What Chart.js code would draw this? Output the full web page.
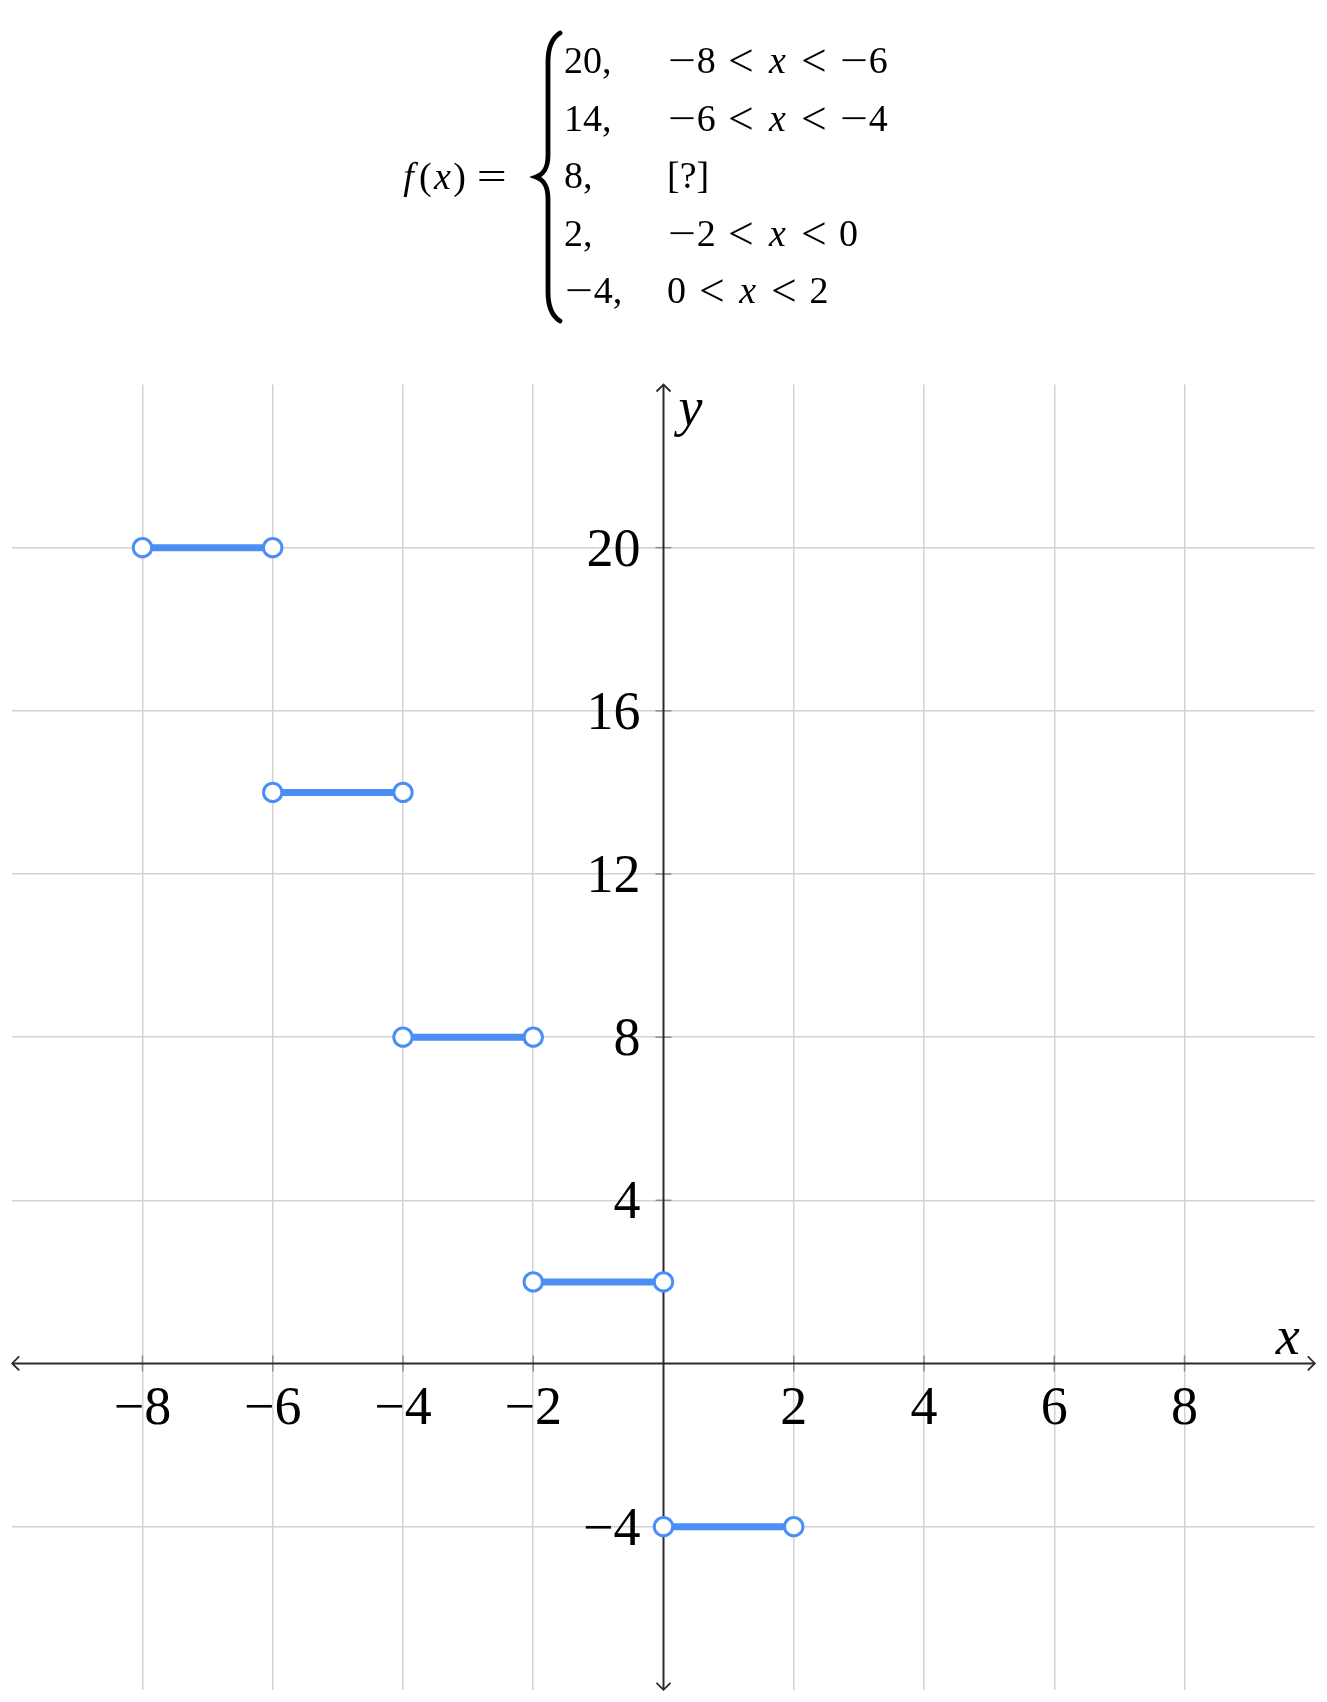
<!DOCTYPE html>
<html>
<head>
<meta charset="utf-8">
<script src="https://cdn.jsdelivr.net/npm/chart.js@4.4.0/dist/chart.umd.min.js"></script>
<style>
  html, body { margin: 0; padding: 0; background: #fff; }
  #wrap { position: relative; width: 1327px; height: 1702px; overflow: hidden; }
  #chart { position: absolute; left: 0; top: 0; }
  #formula { position: absolute; left: 0; top: 0; width: 1327px; height: 340px;
             font-family: "Liberation Serif", serif; color: #000; }
  #formula .t { position: absolute; font-size: 38px; line-height: 38px; white-space: nowrap; }
  #formula .m { display: inline-block; width: 0.78em; text-align: center; transform: scaleX(1.3); }
  #formula .rel { display: inline-block; width: 0.78em; text-align: center; margin: 0 0.28em; transform: scale(1.2); }
  #formula .eq { display: inline-block; width: 0.78em; text-align: center; margin-left: 0.3em; transform: scaleX(1.4); }
  #formula .v { display: inline-block; width: 0.57em; font-style: italic; text-align: center; }
  #formula .f { display: inline-block; width: 0.55em; font-style: italic; text-align: center; }
  #brace { position: absolute; left: 525px; top: 30px; }
</style>
</head>
<body>
<div id="wrap">
  <canvas id="chart" width="1327" height="1702"></canvas>
  <div id="formula">
    <div class="t" style="left:398px; top:157px;"><span class="f">f</span>(<span class="v">x</span>)<span class="eq">=</span></div>
    <svg id="brace" width="45" height="296" viewBox="0 0 45 296">
      <path d="M35,3 C27,8 23,18 23,32 L23,125 C23,138 19,144 11,147 C19,150 23,156 23,169 L23,262 C23,276 27,286 35,291"
            fill="none" stroke="#000" stroke-width="4.8" stroke-linecap="round"/>
    </svg>
  </div>
</div>
<script>
// ---------------- Data ----------------
const xRange = [-10, 10];
const yRange = [-8, 24];
const xTicks = [-8, -6, -4, -2, 2, 4, 6, 8];
const yTicks = [-4, 4, 8, 12, 16, 20];

const pieceStart = [-8, -6, -4, -2, 0];
const pieceEnd = [-6, -4, -2, 0, 2];
const pieceValue = [20, 14, 8, 2, -4];
const hiddenPiece = 2;   // row shown as [?]

const blue = "#4b8ef5";
const fmt = v => (v < 0 ? "\u2212" + Math.abs(v) : String(v));
const fmtHtml = v => (v < 0 ? '<span class="m">\u2212</span>' + Math.abs(v) : String(v));

// ---------------- Formula rows ----------------
const formula = document.getElementById("formula");
const rowBaseline = [73, 130.5, 188, 245.5, 303];
pieceValue.forEach((v, i) => {
    const top = rowBaseline[i] - 32;
    const val = document.createElement("div");
    val.className = "t";
    val.style.left = "564px";
    val.style.top = top + "px";
    val.innerHTML = fmtHtml(v) + ",";
    formula.appendChild(val);

    const cond = document.createElement("div");
    cond.className = "t";
    cond.style.left = "667px";
    cond.style.top = top + "px";
    if (i === hiddenPiece) {
        cond.textContent = "[?]";
    } else {
        cond.innerHTML = fmtHtml(pieceStart[i]) + '<span class="rel">&lt;</span><span class="v">x</span><span class="rel">&lt;</span>' + fmtHtml(pieceEnd[i]);
    }
    formula.appendChild(cond);
});

// ---------------- Axes plugin ----------------
const axesPlugin = {
    id: "axes",
    beforeDatasetsDraw(chart) {
        const { ctx, chartArea: a, scales: { x, y } } = chart;
        const x0 = x.getPixelForValue(0);
        const y0 = y.getPixelForValue(0);
        const seg = (x1, y1, x2, y2) => { ctx.beginPath(); ctx.moveTo(x1, y1); ctx.lineTo(x2, y2); ctx.stroke(); };

        ctx.save();
        // tick marks
        ctx.strokeStyle = "#8c8c8c";
        ctx.lineWidth = 1.5;
        xTicks.forEach(v => { const px = x.getPixelForValue(v); seg(px, y0 - 8, px, y0 + 8); });
        yTicks.forEach(v => { const py = y.getPixelForValue(v); seg(x0 - 8, py, x0 + 8, py); });

        // axis lines
        ctx.strokeStyle = "#2a2a2a";
        ctx.lineWidth = 2;
        seg(a.left, y0, a.right, y0);
        seg(x0, a.top, x0, a.bottom);

        // arrow heads
        ctx.lineWidth = 1.8;
        const h = 7;
        ctx.beginPath();
        ctx.moveTo(a.right - h, y0 - h); ctx.lineTo(a.right, y0); ctx.lineTo(a.right - h, y0 + h);
        ctx.moveTo(a.left + h, y0 - h); ctx.lineTo(a.left, y0); ctx.lineTo(a.left + h, y0 + h);
        ctx.moveTo(x0 - h, a.top + h); ctx.lineTo(x0, a.top); ctx.lineTo(x0 + h, a.top + h);
        ctx.moveTo(x0 - h, a.bottom - h); ctx.lineTo(x0, a.bottom); ctx.lineTo(x0 + h, a.bottom - h);
        ctx.stroke();

        // tick labels
        ctx.fillStyle = "#000";
        ctx.font = '54px "Liberation Serif"';
        ctx.textBaseline = "alphabetic";
        ctx.textAlign = "center";
        xTicks.forEach(v => ctx.fillText(fmt(v), x.getPixelForValue(v), y0 + 61));
        ctx.textAlign = "right";
        yTicks.forEach(v => ctx.fillText(fmt(v), x0 - 23, y.getPixelForValue(v) + 18));

        // axis names
        ctx.font = 'italic 54px "Liberation Serif"';
        ctx.textAlign = "left";
        ctx.fillText("y", x0 + 15, a.top + 40);
        ctx.textAlign = "center";
        ctx.fillText("x", a.right - 27, y0 - 9);
        ctx.restore();
    }
};

// ---------------- Chart ----------------
const datasets = pieceValue.map((v, i) => ({
    data: [{ x: pieceStart[i], y: v }, { x: pieceEnd[i], y: v }],
    borderColor: blue,
    borderWidth: 7,
    pointRadius: 9.2,
    pointBorderWidth: 3,
    pointBackgroundColor: "#fff",
    pointBorderColor: blue,
    pointHoverRadius: 9.2,
    clip: 20
}));

new Chart(document.getElementById("chart"), {
    type: "line",
    data: { datasets },
    options: {
        responsive: false,
        animation: false,
        devicePixelRatio: 1,
        layout: { padding: { left: 5.5, right: 6.5, top: 384.5, bottom: 5 } },
        plugins: { legend: { display: false }, tooltip: { enabled: false } },
        scales: {
            x: {
                type: "linear",
                min: xRange[0], max: xRange[1],
                afterBuildTicks: s => { s.ticks = xTicks.map(v => ({ value: v })); },
                ticks: { display: false },
                grid: { color: "#d2d2d2", lineWidth: 1.5, drawTicks: false },
                border: { display: false }
            },
            y: {
                type: "linear",
                min: yRange[0], max: yRange[1],
                afterBuildTicks: s => { s.ticks = yTicks.map(v => ({ value: v })); },
                ticks: { display: false },
                grid: { color: "#d2d2d2", lineWidth: 1.5, drawTicks: false },
                border: { display: false }
            }
        }
    },
    plugins: [axesPlugin]
});
</script>
</body>
</html>
